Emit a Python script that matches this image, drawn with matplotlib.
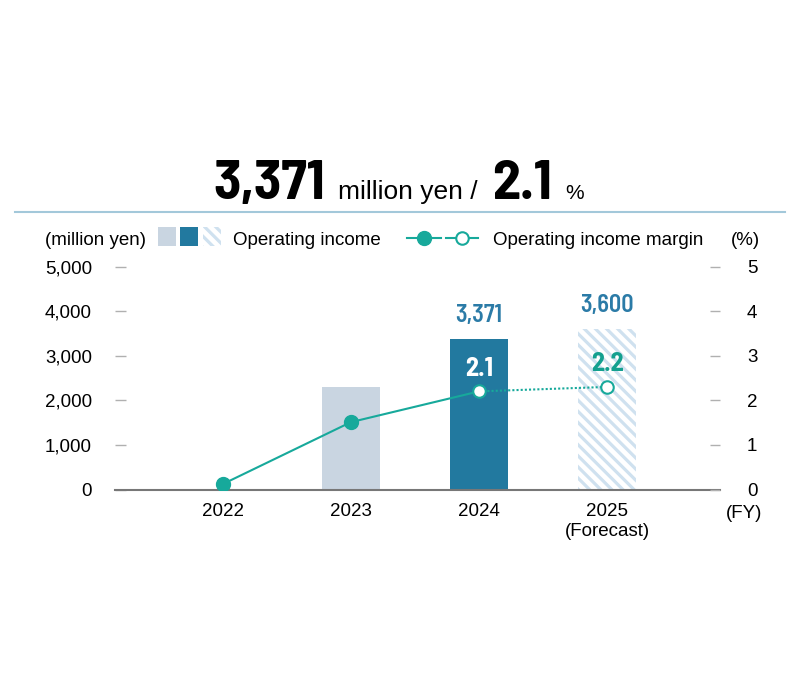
import numpy as np
import matplotlib.pyplot as plt
from matplotlib.patches import Rectangle

# data
years = ["2022", "2023", "2024", "2025\n(Forecast)"]
income = [15, 2290, 3371, 3600]          # million yen
margin = [0.12, 1.51, 2.2, 2.3]          # % (position as drawn)
income_labels = ["", "", "3,371", "3,600"]
margin_labels = ["", "", "2.1", "2.2"]
left_ticks = [0, 1000, 2000, 3000, 4000, 5000]
right_ticks = [0, 1, 2, 3, 4, 5]

# colours
c_past = "#c9d5e1"
c_now = "#22799f"
c_hatch = "#cfe1ef"
c_teal = "#17a99b"
c_blue_txt = "#2b7ba7"
c_tick = "#b0b0b0"

plt.rcParams['font.family'] = ['Liberation Sans', 'DejaVu Sans']
plt.rcParams['hatch.linewidth'] = 2.3
cond = ['Barlow Semi Condensed', 'DejaVu Sans']

W, H = 800, 700
fig = plt.figure(figsize=(W / 100, H / 100), dpi=100)

ax = fig.add_axes([115 / W, (H - 489.5) / H, 605 / W, 223 / H])
x = np.arange(len(years))

ax.bar(x[:3], income[:3], width=0.45, color=[c_past, c_past, c_now], linewidth=0)
ax.bar(x[3], income[3], width=0.45, color="white", edgecolor=c_hatch, hatch="\\\\\\", linewidth=0)

for i in range(len(years)):
    if income_labels[i]:
        ax.annotate(income_labels[i], (x[i], income[i]), xytext=(0, 12.5), textcoords="offset points",
                    ha="center", va="baseline", fontsize=17.5, color=c_blue_txt,
                    family=cond, weight=600)

ax.set_xlim(-0.84, 3.88)
ax.set_ylim(0, 5000)
ax.set_xticks(x, years)
ax.set_yticks(left_ticks, [f"{v:,}" for v in left_ticks])
ax.tick_params(axis="x", length=0, pad=10, labelsize=13.5)
ax.tick_params(axis="y", direction="in", length=8, width=1, color=c_tick, pad=16.5, labelsize=13.5)
for s in ["top", "left", "right"]:
    ax.spines[s].set_visible(False)
ax.spines["bottom"].set_color("#777777")
ax.spines["bottom"].set_linewidth(1.5)

# margin line on the right axis
ax2 = ax.twinx()
ax2.set_ylim(0, 5)
ax2.plot(x[:3], margin[:3], color=c_teal, lw=1.5)
ax2.plot(x[2:], margin[2:], color=c_teal, lw=1.5, ls=(0, (1, 1)))
ax2.plot(x[:2], margin[:2], "o", ms=10, color=c_teal)
ax2.plot(x[2:], margin[2:], "o", ms=9, mfc="white", mec=c_teal, mew=1.5)
ax2.set_yticks(right_ticks, [str(v) for v in right_ticks])
ax2.tick_params(axis="y", direction="in", length=7.5, width=1, color=c_tick, pad=19.5, labelsize=13.5)
for s in ax2.spines.values():
    s.set_visible(False)

for i in range(len(years)):
    if margin_labels[i]:
        col = "white" if i == 2 else "#14a08f"
        ax2.annotate(margin_labels[i], (x[i], margin[i]), xytext=(0, 11.3), textcoords="offset points",
                     ha="center", va="baseline", fontsize=19, color=col, family=cond, weight="bold")

# header, rule and legend drawn in pixel coords
ov = fig.add_axes([0, 0, 1, 1])
ov.set_xlim(0, W)
ov.set_ylim(H, 0)
ov.axis("off")

ov.text(213, 199, "3,371", fontsize=40.5, va="baseline", ha="left", color="black", family=cond, weight="bold")
ov.text(338, 199, "million yen /", fontsize=19, va="baseline", ha="left")
ov.text(492, 199, "2.1", fontsize=40.5, va="baseline", ha="left", color="black", family=cond, weight="bold")
ov.text(565, 199, "%", fontsize=15, va="baseline", ha="left")
ov.plot([15, 785], [212, 212], color="#a3c8da", lw=1.5)

ov.text(45, 245, "(million yen)", fontsize=13.5, va="baseline")
ov.add_patch(Rectangle((158, 227), 18, 19, color=c_past, lw=0))
ov.add_patch(Rectangle((180, 227), 18, 19, color=c_now, lw=0))
ov.add_patch(Rectangle((203, 227), 18, 19, facecolor="white", edgecolor=c_hatch, hatch="\\\\\\", lw=0))
ov.text(233, 245, "Operating income", fontsize=13.5, va="baseline")
ov.plot([407, 441], [238, 238], color=c_teal, lw=1.5)
ov.plot([424], [238], "o", ms=10, color=c_teal)
ov.plot([446, 478], [238, 238], color=c_teal, lw=1.5)
ov.plot([462], [238], "o", ms=9, mfc="white", mec=c_teal, mew=1.5)
ov.text(493, 245, "Operating income margin", fontsize=13.5, va="baseline")
ov.text(731, 245, "(%)", fontsize=13.5, va="baseline")
ov.text(726, 518, "(FY)", fontsize=13.5, va="baseline")

fig.savefig("out.png", dpi=100)
